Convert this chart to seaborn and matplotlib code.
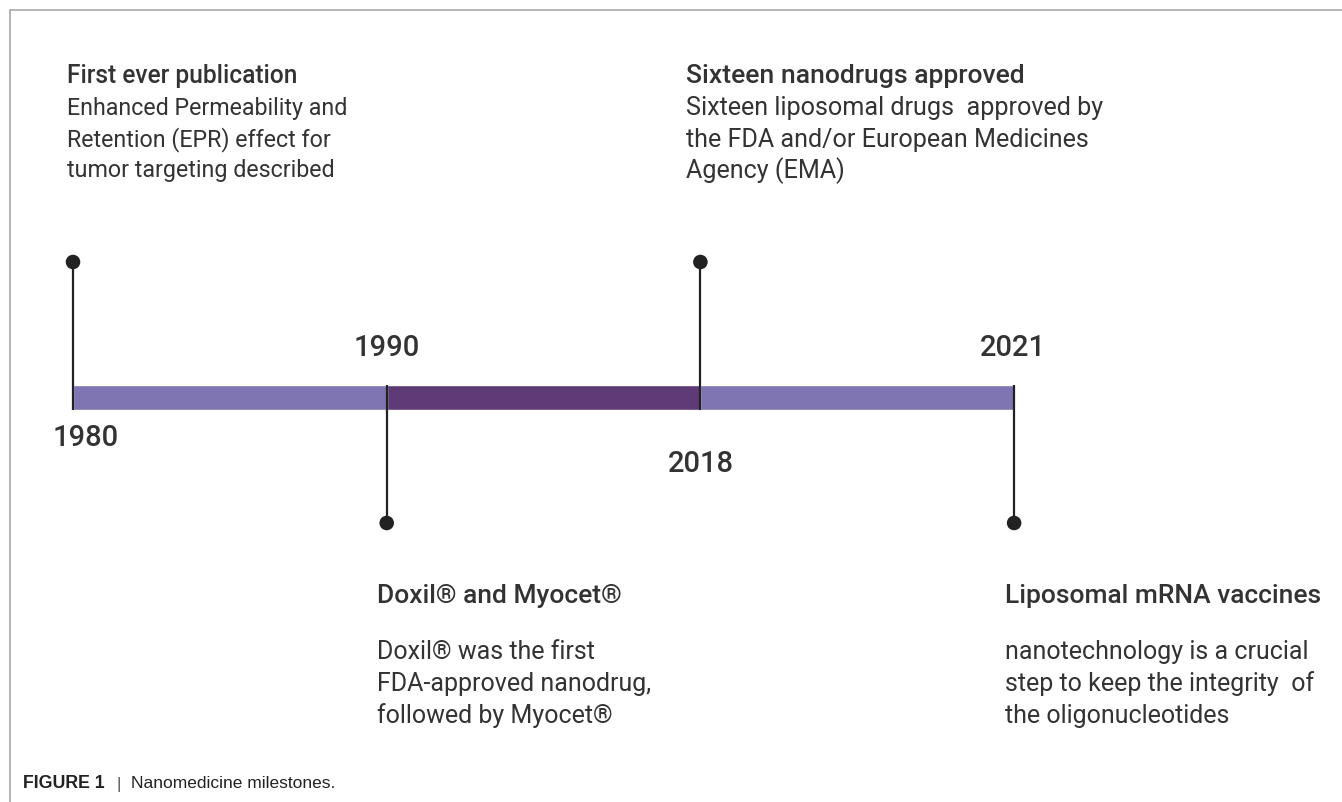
import numpy as np
import matplotlib.pyplot as plt
from matplotlib.lines import Line2D
import seaborn as sns

# milestone data
years = ['1980', '1990', '2018', '2021']
sides = [1, -1, 1, -1]  # 1 = above the bar, -1 = below
titles = ['First ever publication', 'Doxil® and Myocet®',
          'Sixteen nanodrugs approved', 'Liposomal mRNA vaccines']
notes = [['Enhanced Permeability and', 'Retention (EPR) effect for', 'tumor targeting described'],
         ['Doxil® was the first', 'FDA-approved nanodrug,', 'followed by Myocet®'],
         ['Sixteen liposomal drugs  approved by', 'the FDA and/or European Medicines', 'Agency (EMA)'],
         ['nanotechnology is a crucial', 'step to keep the integrity  of', 'the oligonucleotides']]
segment_colors = ['#8075b3', '#5e3a76', '#8075b3']

# layout (not data)
title_dx = [-0.02, -0.032, -0.045, -0.028]
text_scale = [1.01, 1.085, 1.09, 1.085]
year_pos = [(0.04, -0.40), (0.0, 0.50), (0.0, -0.665), (-0.005, 0.50)]

sns.set_style('white')
plt.rcParams['font.family'] = ['Roboto', 'DejaVu Sans']
txt = '#333333'

fig = plt.figure(figsize=(13.42, 8.02), dpi=100)
ax = fig.add_axes([0, 0, 1, 1])
ax.set_xlim(-73 / 313.7, (1342 - 73) / 313.7)
ax.set_ylim(-4.045, 3.975)
ax.axis('off')

x = np.arange(len(years))
bar_h = 0.25

# timeline segments
ax.barh(0, width=np.diff(x), left=x[:-1], height=bar_h, color=segment_colors, zorder=2)

# stems + dots
sides = np.array(sides)
dot_y = np.where(sides > 0, 1.355, -1.255)
stem_start = -sides * bar_h / 2
ax.vlines(x, stem_start, dot_y, color='#222222', lw=1.6, zorder=3)
sns.scatterplot(x=x, y=dot_y, s=110, color='#222222', edgecolor='none', zorder=4, ax=ax)

# year labels
for yr, (dx, yy), xi in zip(years, year_pos, x):
    ax.text(xi + dx, yy, yr, ha='center', va='center', fontsize=21, fontweight='medium', color=txt)

# titles and descriptions
for xi, s, t, lines, dx, sc in zip(x, sides, titles, notes, title_dx, text_scale):
    if s > 0:
        ty, by, step = 3.215, 2.89, 0.31
    else:
        ty, by, step = -1.985, -2.545, 0.32
    ax.text(xi + dx, ty, t, ha='left', va='center', fontsize=17.5 * sc, fontweight='medium', color=txt)
    for k, ln in enumerate(lines):
        ax.text(xi + dx, by - k * step, ln, ha='left', va='center', fontsize=16.6 * sc, color=txt)

# frame lines
fig.add_artist(Line2D([10 / 1342, 1], [1 - 10 / 802, 1 - 10 / 802], color='#a8a8a8', lw=1.2))
fig.add_artist(Line2D([10 / 1342, 10 / 1342], [0, 1 - 10 / 802], color='#a8a8a8', lw=1.2))

# caption
cy = 1 - 784 / 802
fig.text(23 / 1342, cy, 'FIGURE 1', fontsize=12.8, fontweight='bold', va='center',
         family=['Liberation Sans', 'DejaVu Sans'], color='#222222')
fig.text(116 / 1342, cy, '|', fontsize=12.5, va='center', family=['Liberation Sans'], color='#555555')
fig.text(131 / 1342, cy, 'Nanomedicine milestones.', fontsize=12.5, va='center',
         family=['Liberation Sans', 'DejaVu Sans'], color='#222222')

fig.savefig('out.png', dpi=100)
